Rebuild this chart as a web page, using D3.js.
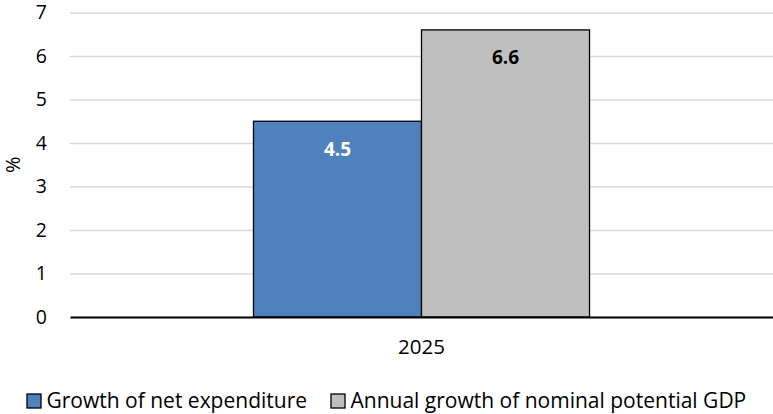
<!DOCTYPE html>
<html>
<head>
<meta charset="utf-8">
<script src="https://cdn.jsdelivr.net/npm/d3@7/dist/d3.min.js"></script>
<style>
  html, body { margin: 0; padding: 0; background: #fff; }
  svg { display: block; font-family: "Open Sans", sans-serif; }
</style>
</head>
<body>
<svg id="chart" width="773" height="414"></svg>
<script>
const categories = ["2025"];
const seriesNames = ["Growth of net expenditure", "Annual growth of nominal potential GDP"];
const seriesValues = [[4.5], [6.6]];
const seriesColors = ["#4F81BD", "#BFBFBF"];
const labelColors = ["#FFFFFF", "#000000"];
const yTicks = [0, 1, 2, 3, 4, 5, 6, 7];
const yLabel = "%";

const svg = d3.select("#chart");
const margin = { left: 70, right: 0, top: 12.5, bottom: 97 };
const W = 773, H = 414;
const plotL = margin.left, plotR = W - margin.right;
const plotT = margin.top, plotB = H - margin.bottom;

const y = d3.scaleLinear().domain([0, 7]).range([plotB, plotT]);
const x0 = d3.scaleBand().domain(categories).range([plotL, plotR]).paddingInner(0).paddingOuter(0.546);
const x1 = d3.scaleBand().domain(d3.range(seriesNames.length)).range([0, x0.bandwidth()]).padding(0);

// gridlines + y labels
const yAxis = d3.axisLeft(y).tickValues(yTicks).tickSize(-(plotR - plotL)).tickPadding(23).tickFormat(d3.format("d"));
const gy = svg.append("g").attr("transform", `translate(${plotL},0)`).call(yAxis);
gy.select(".domain").remove();
gy.selectAll(".tick line").attr("stroke", "#D9D9D9").attr("stroke-width", 1.5);
gy.selectAll(".tick text").attr("font-size", 19.5).attr("fill", "#000").attr("font-family", "Open Sans, sans-serif");
gy.selectAll(".tick").filter(d => d === 0).select("line").remove();

// bars
categories.forEach((c, ci) => {
  seriesNames.forEach((s, si) => {
    const v = seriesValues[si][ci];
    const bx = x0(c) + x1(si);
    svg.append("rect")
      .attr("x", bx).attr("y", y(v))
      .attr("width", x1.bandwidth()).attr("height", y(0) - y(v))
      .attr("fill", seriesColors[si]).attr("stroke", "#000").attr("stroke-width", 1.3);
    svg.append("text")
      .attr("x", bx + x1.bandwidth() / 2).attr("y", y(v) + 34.5)
      .attr("text-anchor", "middle").attr("font-size", 19).attr("font-weight", "bold")
      .attr("fill", labelColors[si]).text(d3.format(".1f")(v));
  });
});

// x axis
const xAxis = d3.axisBottom(x0).tickSize(0).tickPadding(22);
const gx = svg.append("g").attr("transform", `translate(0,${y(0)})`).call(xAxis);
gx.select(".domain").attr("stroke", "#000").attr("stroke-width", 2);
gx.selectAll(".tick text").attr("font-size", 20.5).attr("fill", "#000").attr("font-family", "Open Sans, sans-serif");

// y label
svg.append("text").attr("transform", `translate(20,${(plotT + plotB) / 2}) rotate(-90)`)
  .attr("text-anchor", "middle").attr("font-size", 20).attr("fill", "#000").text(yLabel);

// legend
const legendX = [27, 331];
const lg = svg.append("g");
seriesNames.forEach((s, i) => {
  lg.append("rect").attr("x", legendX[i]).attr("y", 394).attr("width", 14).attr("height", 14)
    .attr("fill", seriesColors[i]).attr("stroke", "#000").attr("stroke-width", 1.3);
  lg.append("text").attr("x", legendX[i] + 19.5).attr("y", 408).attr("font-size", 21)
    .attr("fill", "#000").text(s);
});
</script>
</body>
</html>
